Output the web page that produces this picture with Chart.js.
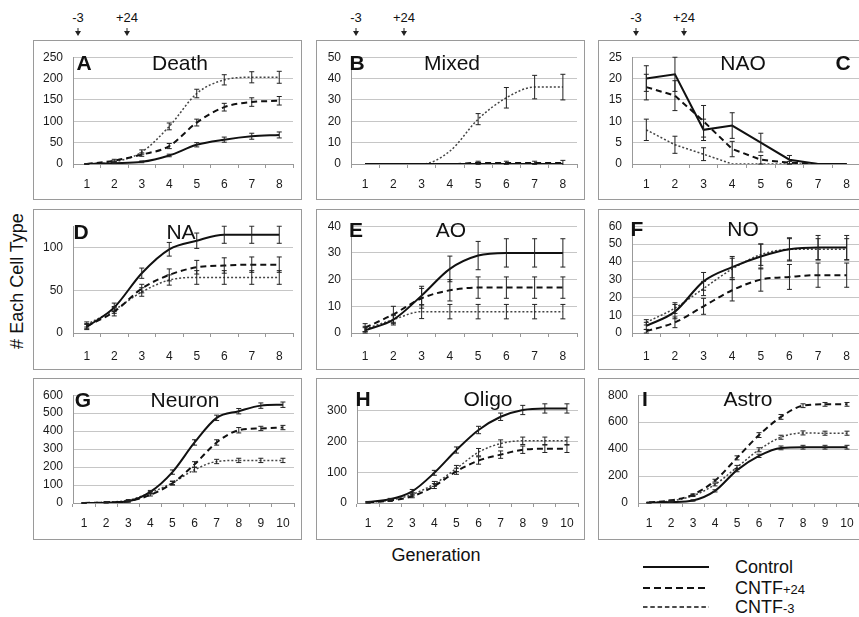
<!DOCTYPE html>
<html>
<head>
<meta charset="utf-8">
<script src="https://cdn.jsdelivr.net/npm/chart.js@4.4.1/dist/chart.umd.min.js"></script>
<style>
  body { margin: 0; width: 859px; height: 617px; overflow: hidden; background: #fff; position: relative;
         font-family: "Liberation Sans", Arial, sans-serif; color: #111; }
  .box { position: absolute; border: 1.5px solid #9a9a9a; box-sizing: border-box; }
  canvas { position: absolute; }
  .t { position: absolute; transform: translate(-50%, -50%); line-height: 1; white-space: nowrap; }
  .letter { font-weight: bold; font-size: 21px; }
  .title { font-size: 21px; }
  .mark { font-size: 13px; }
  .arrow { position: absolute; width: 0; height: 0; border-left: 3px solid transparent;
           border-right: 3px solid transparent; border-top: 5px solid #222; transform: translateX(-50%); }
  .stem { position: absolute; width: 1px; height: 4px; background: #222; transform: translateX(-50%); }
  .leg { position: absolute; font-size: 18px; transform: translateY(-50%); line-height: 1; }
  .leg small { font-size: 13px; }
</style>
</head>
<body>

<!-- treatment markers above the top row -->
<div class="t mark" style="left:78px;top:17px">-3</div>
<div class="t mark" style="left:127px;top:17px">+24</div>
<div class="t mark" style="left:356px;top:17px">-3</div>
<div class="t mark" style="left:404px;top:17px">+24</div>
<div class="t mark" style="left:636px;top:17px">-3</div>
<div class="t mark" style="left:684px;top:17px">+24</div>
<div class="stem" style="left:78px;top:28px"></div><div class="arrow" style="left:78px;top:31px"></div>
<div class="stem" style="left:127px;top:28px"></div><div class="arrow" style="left:127px;top:31px"></div>
<div class="stem" style="left:356px;top:28px"></div><div class="arrow" style="left:356px;top:31px"></div>
<div class="stem" style="left:404px;top:28px"></div><div class="arrow" style="left:404px;top:31px"></div>
<div class="stem" style="left:636px;top:28px"></div><div class="arrow" style="left:636px;top:31px"></div>
<div class="stem" style="left:684px;top:28px"></div><div class="arrow" style="left:684px;top:31px"></div>

<div id="panels"></div>

<div class="t" style="left:17px;top:281px;font-size:18px;transform:translate(-50%,-50%) rotate(-90deg)"># Each Cell Type</div>
<div class="t" style="left:436px;top:555px;font-size:18px">Generation</div>

<svg style="position:absolute;left:640px;top:555px" width="75" height="62">
  <line x1="3" y1="12" x2="69" y2="12" stroke="#111" stroke-width="2"/>
  <line x1="3" y1="33" x2="69" y2="33" stroke="#111" stroke-width="2" stroke-dasharray="7 4"/>
  <line x1="3" y1="52" x2="69" y2="52" stroke="#111" stroke-width="1.6" stroke-dasharray="4.5 2.8"/>
</svg>
<div class="leg" style="left:735px;top:567px">Control</div>
<div class="leg" style="left:735px;top:588px">CNTF<small>+24</small></div>
<div class="leg" style="left:735px;top:607px">CNTF<small>-3</small></div>

<script>
// x categories (generation)
const gen8 = ["1", "2", "3", "4", "5", "6", "7", "8"];
const gen10 = ["1", "2", "3", "4", "5", "6", "7", "8", "9", "10"];

// A - Death
const deathControl = [0, 2, 5, 20, 45, 57, 65, 68];
const deathControlErr = [0, 1, 2, 3, 5, 6, 7, 7];
const deathCntf24 = [0, 8, 22, 42, 97, 133, 145, 148];
const deathCntf24Err = [1, 3, 4, 6, 8, 9, 10, 10];
const deathCntf3 = [0, 5, 28, 88, 165, 197, 203, 203];
const deathCntf3Err = [1, 2, 5, 8, 10, 12, 13, 14];

// B - Mixed
const mixedControl = [0, 0, 0, 0, 0, 0, 0, 0];
const mixedControlErr = [0, 0, 0, 0, 0, 0, 0, 0];
const mixedCntf24 = [0, 0, 0, 0, 0.5, 0.5, 0.5, 0.5];
const mixedCntf24Err = [0, 0, 0, 0, 0.8, 0.8, 0.8, 1.2];
const mixedCntf3 = [0, 0, 0, 6, 21, 31, 36, 36];
const mixedCntf3Err = [0, 0, 0, 0, 2.6, 4.8, 5.5, 6];

// C - NAO
const naoControl = [20, 21, 8, 9, 5, 1, 0, 0];
const naoControlErr = [3, 4, 2.5, 3, 2.2, 1, 0, 0];
const naoCntf24 = [18, 16, 10, 3.5, 1, 0.3, 0, 0];
const naoCntf24Err = [3, 3.5, 3.7, 1.8, 1, 0.3, 0, 0];
const naoCntf3 = [8, 4.5, 2.3, 0, 0, 0, 0, 0];
const naoCntf3Err = [2.5, 2, 1.5, 0, 0, 0, 0, 0];

// D - NA
const naControl = [7, 30, 70, 98, 108, 115, 115, 115];
const naControlErr = [3, 5, 6, 8, 9, 10, 10, 10];
const naCntf24 = [8, 25, 52, 68, 77, 79, 80, 80];
const naCntf24Err = [3, 5, 5, 7, 8, 9, 9, 9];
const naCntf3 = [10, 27, 48, 62, 65, 65, 65, 65];
const naCntf3Err = [3, 4, 5, 6, 8, 8, 8, 8];

// E - AO
const aoControl = [1, 5, 14, 24, 29, 30, 30, 30];
const aoControlErr = [1, 1.5, 3.5, 4.8, 5.3, 5.3, 5.3, 5.3];
const aoCntf24 = [2, 7, 13, 16, 17, 17, 17, 17];
const aoCntf24Err = [1.5, 3, 3.7, 4, 4, 4, 4, 4];
const aoCntf3 = [1.5, 5, 8, 8, 8, 8, 8, 8];
const aoCntf3Err = [1, 2, 2.6, 2.7, 2.7, 2.7, 2.7, 2.7];

// F - NO
const noControl = [4, 12, 29, 37, 43, 47, 48, 48];
const noControlErr = [2, 4, 5, 6, 7, 6.5, 6.8, 6.8];
const noCntf24 = [1, 6, 15, 24, 30, 31.5, 32.5, 32.5];
const noCntf24Err = [1, 3, 4.5, 6, 6.5, 7, 6.8, 6.8];
const noCntf3 = [6, 14, 25, 36, 44, 47, 47, 47];
const noCntf3Err = [1.5, 3, 4, 6, 6, 6, 6, 6];

// G - Neuron
const neuronControl = [0, 2, 10, 62, 172, 337, 474, 511, 542, 547];
const neuronControlErr = [1, 2, 5, 8, 12, 15, 15, 15, 15, 15];
const neuronCntf24 = [0, 3, 10, 45, 110, 215, 337, 405, 415, 420];
const neuronCntf24Err = [1, 2, 4, 6, 10, 15, 15, 15, 12, 12];
const neuronCntf3 = [0, 5, 15, 57, 112, 185, 231, 237, 237, 237];
const neuronCntf3Err = [1, 2, 4, 6, 10, 12, 12, 12, 12, 12];

// H - Oligo
const oligoControl = [3, 12, 38, 98, 172, 237, 280, 302, 307, 307];
const oligoControlErr = [2, 3, 6, 8, 10, 12, 12, 15, 15, 15];
const oligoCntf24 = [2, 8, 22, 55, 103, 138, 157, 173, 176, 176];
const oligoCntf24Err = [2, 3, 5, 8, 10, 12, 12, 12, 12, 12];
const oligoCntf3 = [2, 9, 28, 62, 112, 165, 193, 202, 202, 202];
const oligoCntf3Err = [2, 3, 5, 8, 10, 12, 12, 12, 12, 12];

// I - Astro
const astroControl = [2, 7, 19, 90, 244, 350, 409, 414, 414, 414];
const astroControlErr = [2, 3, 5, 8, 12, 12, 14, 14, 14, 14];
const astroCntf24 = [4, 19, 62, 166, 335, 504, 639, 722, 732, 732];
const astroCntf24Err = [2, 4, 6, 10, 15, 18, 18, 14, 14, 14];
const astroCntf3 = [3, 15, 54, 137, 265, 395, 488, 520, 518, 518];
const astroCntf3Err = [2, 4, 6, 10, 14, 15, 15, 15, 15, 15];

// panel boxes and plot areas (page pixels)
const rows = [
  { by: 40, bh: 160, pt: 52, pb: 164, pad: 9 },
  { by: 209, bh: 161, pt: 220, pb: 333, pad: 12 },
  { by: 378, bh: 162, pt: 390, pb: 503, pad: 9 }
];
const cols = [
  { bx: 33, bw: 269 },
  { bx: 316, bw: 269 },
  { bx: 598, bw: 272 }
];

const panels = [
  { letter: "A", title: "Death", labels: gen8, max: 250, step: 50, row: 0, col: 0, pl: 73, pr: 293, tension: 0.3,
    data: [deathControl, deathCntf24, deathCntf3], errs: [deathControlErr, deathCntf24Err, deathCntf3Err],
    lx: 84, tx: 180, ty: 62 },
  { letter: "B", title: "Mixed", labels: gen8, max: 50, step: 10, row: 0, col: 1, pl: 351, pr: 577, tension: 0.3,
    data: [mixedControl, mixedCntf24, mixedCntf3], errs: [mixedControlErr, mixedCntf24Err, mixedCntf3Err],
    lx: 357, tx: 452, ty: 62 },
  { letter: "C", title: "NAO", labels: gen8, max: 25, step: 5, row: 0, col: 2, pl: 632, pr: 861, tension: 0,
    data: [naoControl, naoCntf24, naoCntf3], errs: [naoControlErr, naoCntf24Err, naoCntf3Err],
    lx: 843, tx: 743, ty: 62 },
  { letter: "D", title: "NA", labels: gen8, max: 125, step: 50, row: 1, col: 0, pl: 73, pr: 293, tension: 0.3,
    data: [naControl, naCntf24, naCntf3], errs: [naControlErr, naCntf24Err, naCntf3Err],
    lx: 81, tx: 181, ty: 231 },
  { letter: "E", title: "AO", labels: gen8, max: 40, step: 10, row: 1, col: 1, pl: 351, pr: 577, tension: 0.3,
    data: [aoControl, aoCntf24, aoCntf3], errs: [aoControlErr, aoCntf24Err, aoCntf3Err],
    lx: 356, tx: 451, ty: 229 },
  { letter: "F", title: "NO", labels: gen8, max: 60, step: 10, row: 1, col: 2, pl: 632, pr: 861, tension: 0.3,
    data: [noControl, noCntf24, noCntf3], errs: [noControlErr, noCntf24Err, noCntf3Err],
    lx: 637, tx: 743, ty: 228 },
  { letter: "G", title: "Neuron", labels: gen10, max: 600, step: 100, row: 2, col: 0, pl: 73, pr: 294, tension: 0.3,
    data: [neuronControl, neuronCntf24, neuronCntf3], errs: [neuronControlErr, neuronCntf24Err, neuronCntf3Err],
    lx: 83, tx: 185, ty: 399 },
  { letter: "H", title: "Oligo", labels: gen10, max: 350, step: 100, row: 2, col: 1, pl: 357, pr: 578, tension: 0.3,
    data: [oligoControl, oligoCntf24, oligoCntf3], errs: [oligoControlErr, oligoCntf24Err, oligoCntf3Err],
    lx: 363, tx: 488, ty: 398 },
  { letter: "I", title: "Astro", labels: gen10, max: 800, step: 200, row: 2, col: 2, pl: 638, pr: 858, tension: 0.3,
    data: [astroControl, astroCntf24, astroCntf3], errs: [astroControlErr, astroCntf24Err, astroCntf3Err],
    lx: 645, tx: 748, ty: 398 }
];

const seriesStyle = [
  { label: "Control", borderColor: "#111", borderWidth: 2, borderDash: [] },
  { label: "CNTF+24", borderColor: "#111", borderWidth: 2, borderDash: [6, 4] },
  { label: "CNTF-3", borderColor: "#444", borderWidth: 1.5, borderDash: [2, 2] }
];

// error bars drawn through the y scale
const errorBars = {
  id: "errorBars",
  afterDatasetsDraw(chart) {
    const { ctx, chartArea, scales } = chart;
    ctx.save();
    ctx.beginPath();
    ctx.rect(chartArea.left, chartArea.top - 1, chartArea.right - chartArea.left, chartArea.bottom - chartArea.top + 2);
    ctx.clip();
    ctx.strokeStyle = "#222";
    ctx.lineWidth = 1;
    ctx.setLineDash([]);
    chart.data.datasets.forEach((ds, i) => {
      const meta = chart.getDatasetMeta(i);
      meta.data.forEach((pt, j) => {
        const e = ds.errors[j];
        if (!e) return;
        const v = ds.data[j];
        const yTop = scales.y.getPixelForValue(v + e);
        const yBot = scales.y.getPixelForValue(v - e);
        ctx.beginPath();
        ctx.moveTo(pt.x, yTop); ctx.lineTo(pt.x, yBot);
        ctx.moveTo(pt.x - 2.5, yTop); ctx.lineTo(pt.x + 2.5, yTop);
        ctx.moveTo(pt.x - 2.5, yBot); ctx.lineTo(pt.x + 2.5, yBot);
        ctx.stroke();
      });
    });
    ctx.restore();
  }
};

const host = document.getElementById("panels");
const tickFont = { family: "'Liberation Sans', Arial, sans-serif", size: 12 };

panels.forEach(p => {
  const r = rows[p.row], c = cols[p.col];

  const box = document.createElement("div");
  box.className = "box";
  Object.assign(box.style, { left: c.bx + "px", top: r.by + "px", width: c.bw + "px", height: r.bh + "px" });
  host.appendChild(box);

  const canvas = document.createElement("canvas");
  canvas.width = c.bw; canvas.height = r.bh;
  Object.assign(canvas.style, { left: c.bx + "px", top: r.by + "px", width: c.bw + "px", height: r.bh + "px" });
  host.appendChild(canvas);

  const yWidth = p.pl - c.bx;
  const xHeight = r.by + r.bh - r.pb;

  new Chart(canvas, {
    type: "line",
    data: {
      labels: p.labels,
      datasets: p.data.map((d, k) => ({
        ...seriesStyle[k],
        data: d,
        errors: p.errs[k],
        fill: false,
        pointRadius: 0,
        tension: p.tension,
        cubicInterpolationMode: p.tension ? "monotone" : "default"
      }))
    },
    options: {
      responsive: false,
      animation: false,
      layout: { padding: { top: r.pt - r.by, right: c.bx + c.bw - p.pr, left: 0, bottom: 0 } },
      plugins: { legend: { display: false }, tooltip: { enabled: false } },
      scales: {
        x: {
          offset: true,
          grid: { offset: true, drawOnChartArea: false, drawTicks: true, tickLength: 4, color: "#999" },
          border: { color: "#999" },
          ticks: { font: tickFont, color: "#1a1a1a", padding: r.pad, maxRotation: 0, autoSkip: false },
          afterFit: s => { s.height = xHeight; }
        },
        y: {
          min: 0,
          max: p.max,
          grid: { color: "#c6c6c6", drawTicks: false },
          border: { color: "#999" },
          ticks: { stepSize: p.step, font: tickFont, color: "#1a1a1a", padding: 10 },
          afterBuildTicks: s => { s.ticks = s.ticks.filter(t => t.value % p.step === 0); },
          afterFit: s => { s.width = yWidth; }
        }
      }
    },
    plugins: [errorBars]
  });

  const letter = document.createElement("div");
  letter.className = "t letter";
  letter.textContent = p.letter;
  Object.assign(letter.style, { left: p.lx + "px", top: p.ty + "px" });
  host.appendChild(letter);

  const title = document.createElement("div");
  title.className = "t title";
  title.textContent = p.title;
  Object.assign(title.style, { left: p.tx + "px", top: p.ty + "px" });
  host.appendChild(title);
});
</script>
</body>
</html>
